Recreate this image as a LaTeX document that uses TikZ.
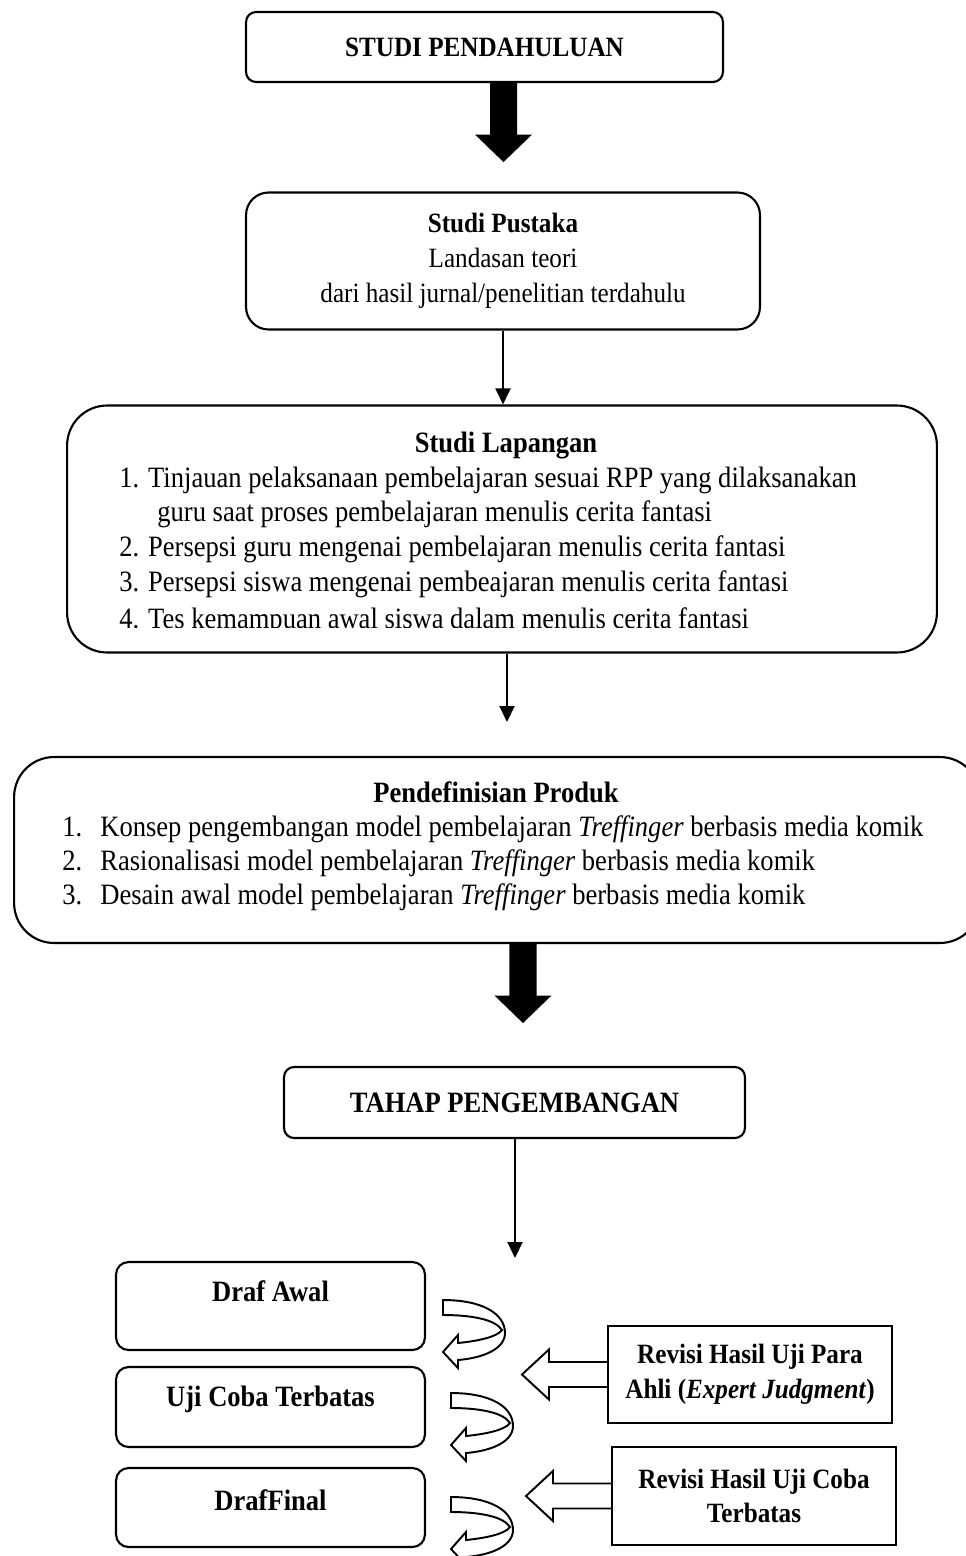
\documentclass[tikz,border=0pt]{standalone}
\usepackage{fontspec}
\setmainfont[FakeStretch=0.9]{Liberation Serif}
\usetikzlibrary{arrows.meta}

\begin{document}
\begin{tikzpicture}[
    x=0.02cm,y=-0.02cm,
    every node/.style={font=\fontsize{15.9}{19.8}\selectfont},
    kotak/.style={draw, line width=1.2pt, rounded corners=0.2cm, align=center, inner sep=0pt},
    kotakTegas/.style={draw, line width=1.2pt, align=center, inner sep=0pt, minimum width=5.68cm, font=\fontsize{15.9}{19.8}\selectfont\bfseries},
    baris/.style={anchor=base west, inner sep=0pt, font=\fontsize{16.8}{20}\selectfont},
    judul/.style={anchor=base, inner sep=0pt, font=\fontsize{16.8}{20}\selectfont\bfseries},
    panahTipis/.style={-{Triangle[width=0.3cm,length=0.32cm]}, line width=1.1pt},
    panahKosong/.style={draw, line width=1.1pt, line join=miter},
    lengkung/.pic={
      \draw[panahKosong, fill=white] (0,0) .. controls (40,0) and (62,14) .. (62,33)
        .. controls (62,49) and (40,58) .. (15,60) -- (15,68) -- (0,52) -- (15,35) -- (15,43)
        .. controls (35,41) and (54,37) .. (59,30) .. controls (52,19) and (27,15) .. (0,15) -- cycle;
    }
  ]
    \useasboundingbox (0,0) rectangle (966,1556);

    % tahap studi pendahuluan
    \node[kotak, minimum width=9.54cm, minimum height=1.4cm, font=\fontsize{15.9}{19.8}\selectfont\bfseries] (pendahuluan) at (484.5,47) {STUDI PENDAHULUAN};
    \node[kotak, rounded corners=0.45cm, minimum width=10.28cm, minimum height=2.74cm] (pustaka) at (503,261)
      {\textbf{Studi Pustaka}\\Landasan teori\\dari hasil jurnal/penelitian terdahulu};
    \node[kotak, rounded corners=0.8cm, minimum width=17.4cm, minimum height=4.94cm] (lapangan) at (502,529) {};
    \node[judul] (lapanganJudul) at (506,452) {Studi Lapangan};
    \begin{scope}
      \clip (67,405) rectangle (937,627);
      \foreach \i/\x/\y/\teks in {1/119/487/{1. Tinjauan pelaksanaan pembelajaran sesuai RPP yang dilaksanakan},
          2/157/521/{guru saat proses pembelajaran menulis cerita fantasi},
          3/119/556/{2. Persepsi guru mengenai pembelajaran menulis cerita fantasi},
          4/119/591/{3. Persepsi siswa mengenai pembeajaran menulis cerita fantasi},
          5/119/628/{4. Tes kemampuan awal siswa dalam menulis cerita fantasi}} {
        \node[baris] (lapangan\i) at (\x,\y) {\teks};
      }
    \end{scope}

    \node[kotak, rounded corners=0.8cm, minimum width=19.32cm, minimum height=3.72cm] (produk) at (497,850) {};
    \node[judul] (produkJudul) at (496,802) {Pendefinisian Produk};
    \foreach \i/\y/\teks in {1/836/{\makebox[0.76cm][l]{1.}Konsep pengembangan model pembelajaran \textit{Treffinger} berbasis media komik},
        2/870/{\makebox[0.76cm][l]{2.}Rasionalisasi model pembelajaran \textit{Treffinger} berbasis media komik},
        3/904/{\makebox[0.76cm][l]{3.}Desain awal model pembelajaran \textit{Treffinger} berbasis media komik}} {
      \node[baris] (produk\i) at (62,\y) {\teks};
    }

    % tahap pengembangan
    \node[kotak, minimum width=9.22cm, minimum height=1.42cm, font=\fontsize{16.8}{20}\selectfont\bfseries] (pengembangan) at (514.5,1102.5) {TAHAP PENGEMBANGAN};
    \foreach \nama/\y/\h/\d/\teks in {drafAwal/1306/1.76cm/0.63cm/Draf Awal,
        ujiCoba/1407/1.6cm/0.47cm/Uji Coba Terbatas,
        drafFinal/1507.5/1.58cm/0.35cm/DrafFinal} {
      \node[kotak, rounded corners=0.25cm, minimum width=6.18cm, minimum height=\h, text height=0.45cm, text depth=\d,
        font=\fontsize{16.8}{20}\selectfont\bfseries] (\nama) at (270.5,\y) {\teks};
    }
    \foreach \nama/\x/\y/\teks in {revisiAhli/750/1374.5/{Revisi Hasil Uji Para\\Ahli (\textit{Expert Judgment})},
        revisiCoba/754/1496/{Revisi Hasil Uji Coba\\Terbatas}} {
      \node[kotakTegas, minimum height=1.95cm] (\nama) at (\x,\y) {\teks};
    }

    % panah blok
    \foreach \nama/\dx in {pendahuluan/0.38cm, produk/0.52cm} {
      \coordinate (pangkal\nama) at ([xshift=\dx]\nama.south);
      \fill (pangkal\nama) ++(-13.5,0) -- ++(27,0) -- ++(0,51.5) -- ++(15,0) -- ++(-28.5,27.5)
        -- ++(-28.5,-27.5) -- ++(15,0) -- cycle;
    }

    % panah tipis
    \coordinate (ujungDua) at (507,722);
    \coordinate (ujungTiga) at (515,1258);
    \draw[panahTipis] (pustaka.south) -- (pustaka.south |- lapangan.north);
    \draw[panahTipis] (lapangan.south -| ujungDua) -- (ujungDua);
    \draw[panahTipis] (pengembangan.south -| ujungTiga) -- (ujungTiga);

    % panah revisi
    \foreach \nama in {revisiAhli, revisiCoba} {
      \draw[panahKosong] (\nama.west) ++(0,-12.5) -- ++(-58,0) -- ++(0,-12.5) -- ++(-27,25)
        -- ++(27,25) -- ++(0,-12.5) -- ++(58,0);
    }

    % panah lengkung
    \pic at (443,1300) {lengkung};
    \pic at (451,1393) {lengkung};
    \pic at (451,1497) {lengkung};
  \end{tikzpicture}
\end{document}
